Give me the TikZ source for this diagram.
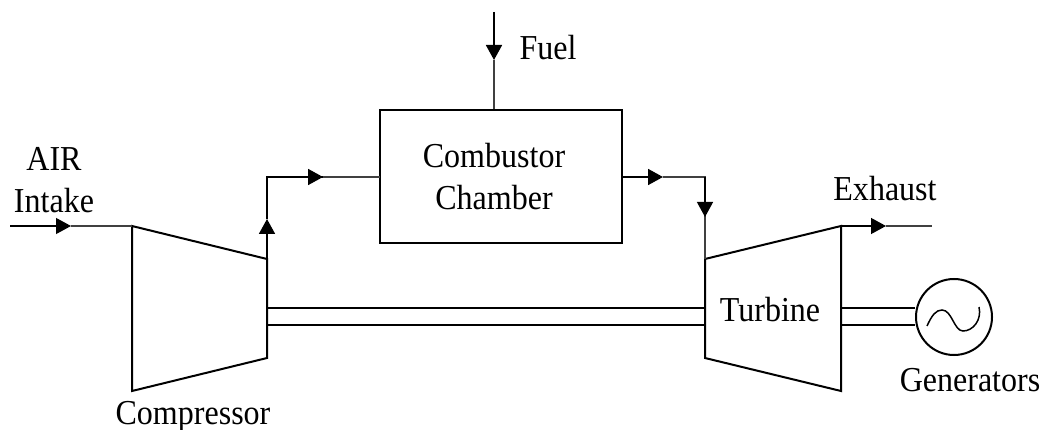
\documentclass[tikz,border=0pt]{standalone}
\usepackage{fontspec}
\setmainfont[FakeStretch=0.915]{Liberation Serif}
\usetikzlibrary{arrows.meta}
\tikzset{
  x=1pt,y=-1pt,
  label text/.style={font=\fontsize{35}{38}\selectfont,inner sep=0pt,anchor=base,text=black},
  body/.style={draw=black,line width=2pt,line join=miter},
  shaft/.style={draw=black,line width=2pt},
  thinline/.style={draw=black!75,line width=1.2pt},
  headed/.style={draw=black,line width=1.7pt,-{Triangle[length=15pt,width=16pt,fill=black]}},
}
\begin{document}
\begin{tikzpicture}
\useasboundingbox (0,0) rectangle (1046,430);
% key points
\coordinate (cTL) at (132,226); \coordinate (cTR) at (267,259);
\coordinate (cBR) at (267,358); \coordinate (cBL) at (132,391);
\coordinate (tTL) at (705,259); \coordinate (tTR) at (841,226);
\coordinate (tBR) at (841,391); \coordinate (tBL) at (705,358);
\coordinate (airS) at (10,226); \coordinate (airT) at (71,226);
\coordinate (upT) at (267,219); \coordinate (cornerA) at (267,177);
\coordinate (rightA) at (323,177); \coordinate (boxInA) at (380,177);
\coordinate (fuelS) at (494,12); \coordinate (fuelT) at (494,60);
\coordinate (boxOut) at (622,177); \coordinate (rightB) at (663,177);
\coordinate (cornerB) at (705,177); \coordinate (downT) at (705,217);
\coordinate (exT) at (886,226); \coordinate (exE) at (932,226);
\coordinate (s1a) at (267,308); \coordinate (s1b) at (705,308);
\coordinate (s2a) at (267,325); \coordinate (s2b) at (705,325);
\coordinate (s3a) at (841,308); \coordinate (s4a) at (841,325);
% combustor and generator
\node[body,rectangle,minimum width=242pt,minimum height=133pt,inner sep=0pt] (comb) at (501,176.5) {};
\node[body,circle,minimum size=76pt,inner sep=0pt] (gen) at (954,317) {};
\coordinate (s3b) at (gen.center |- s3a); \coordinate (s4b) at (gen.center |- s4a);
% machines
\draw[body] (cTL) -- (cTR) -- (cBR) -- (cBL) -- cycle;
\draw[body] (tTL) -- (tTR) -- (tBR) -- (tBL) -- cycle;
% shafts
\draw[shaft] (s1a) -- (s1b); \draw[shaft] (s2a) -- (s2b);
\draw[shaft,line width=2.4pt] (s3a) -- (s3b -| gen.west); \draw[shaft,line width=2.4pt] (s4a) -- (s4b -| gen.west);
% flows
\draw[thinline] (airT) -- (cTL);
\draw[headed,line width=1.2pt] (airS) -- (airT);
\draw[thinline] (rightA) -- (boxInA);
\draw[headed] (cTR) -- (upT);
\draw[draw=black,line width=1.7pt] (upT) -- (cornerA) -- (rightA);
\draw[headed] (cornerA) -- (rightA);
\draw[thinline] (fuelT) -- (fuelS |- comb.north);
\draw[headed] (fuelS) -- (fuelT);
\draw[thinline] (rightB) -- (cornerB) -- (downT);
\draw[headed] (boxOut) -- (rightB);
\draw[thinline] (downT) -- (tTL);
\draw[headed,line width=1.2pt] (cornerB) -- (downT);
\draw[thinline] (exT) -- (exE);
\draw[headed,line width=1.2pt] (tTR) -- (exT);
% sine
\draw[black,line width=1.5pt] (927,326) .. controls (932,315) and (936,310) .. (942,310)
  .. controls (952,310) and (954,331) .. (963,331)
  .. controls (973,331) and (982,320) .. (979,307);
% labels
\node[label text] (lblAir) at (54,171) {AIR};
\node[label text] (lblIntake) at (54,213) {Intake};
\node[label text] (lblComp) at (193,424) {Compressor};
\node[label text] (lblC1) at (494,168) {Combustor};
\node[label text] (lblC2) at (494,210) {Chamber};
\node[label text] (lblFuel) at (548,60) {Fuel};
\node[label text] (lblEx) at (885,201) {Exhaust};
\node[label text] (lblTurb) at (770,321) {Turbine};
\node[label text] (lblGen) at (970,391) {Generators};
\end{tikzpicture}
\end{document}
